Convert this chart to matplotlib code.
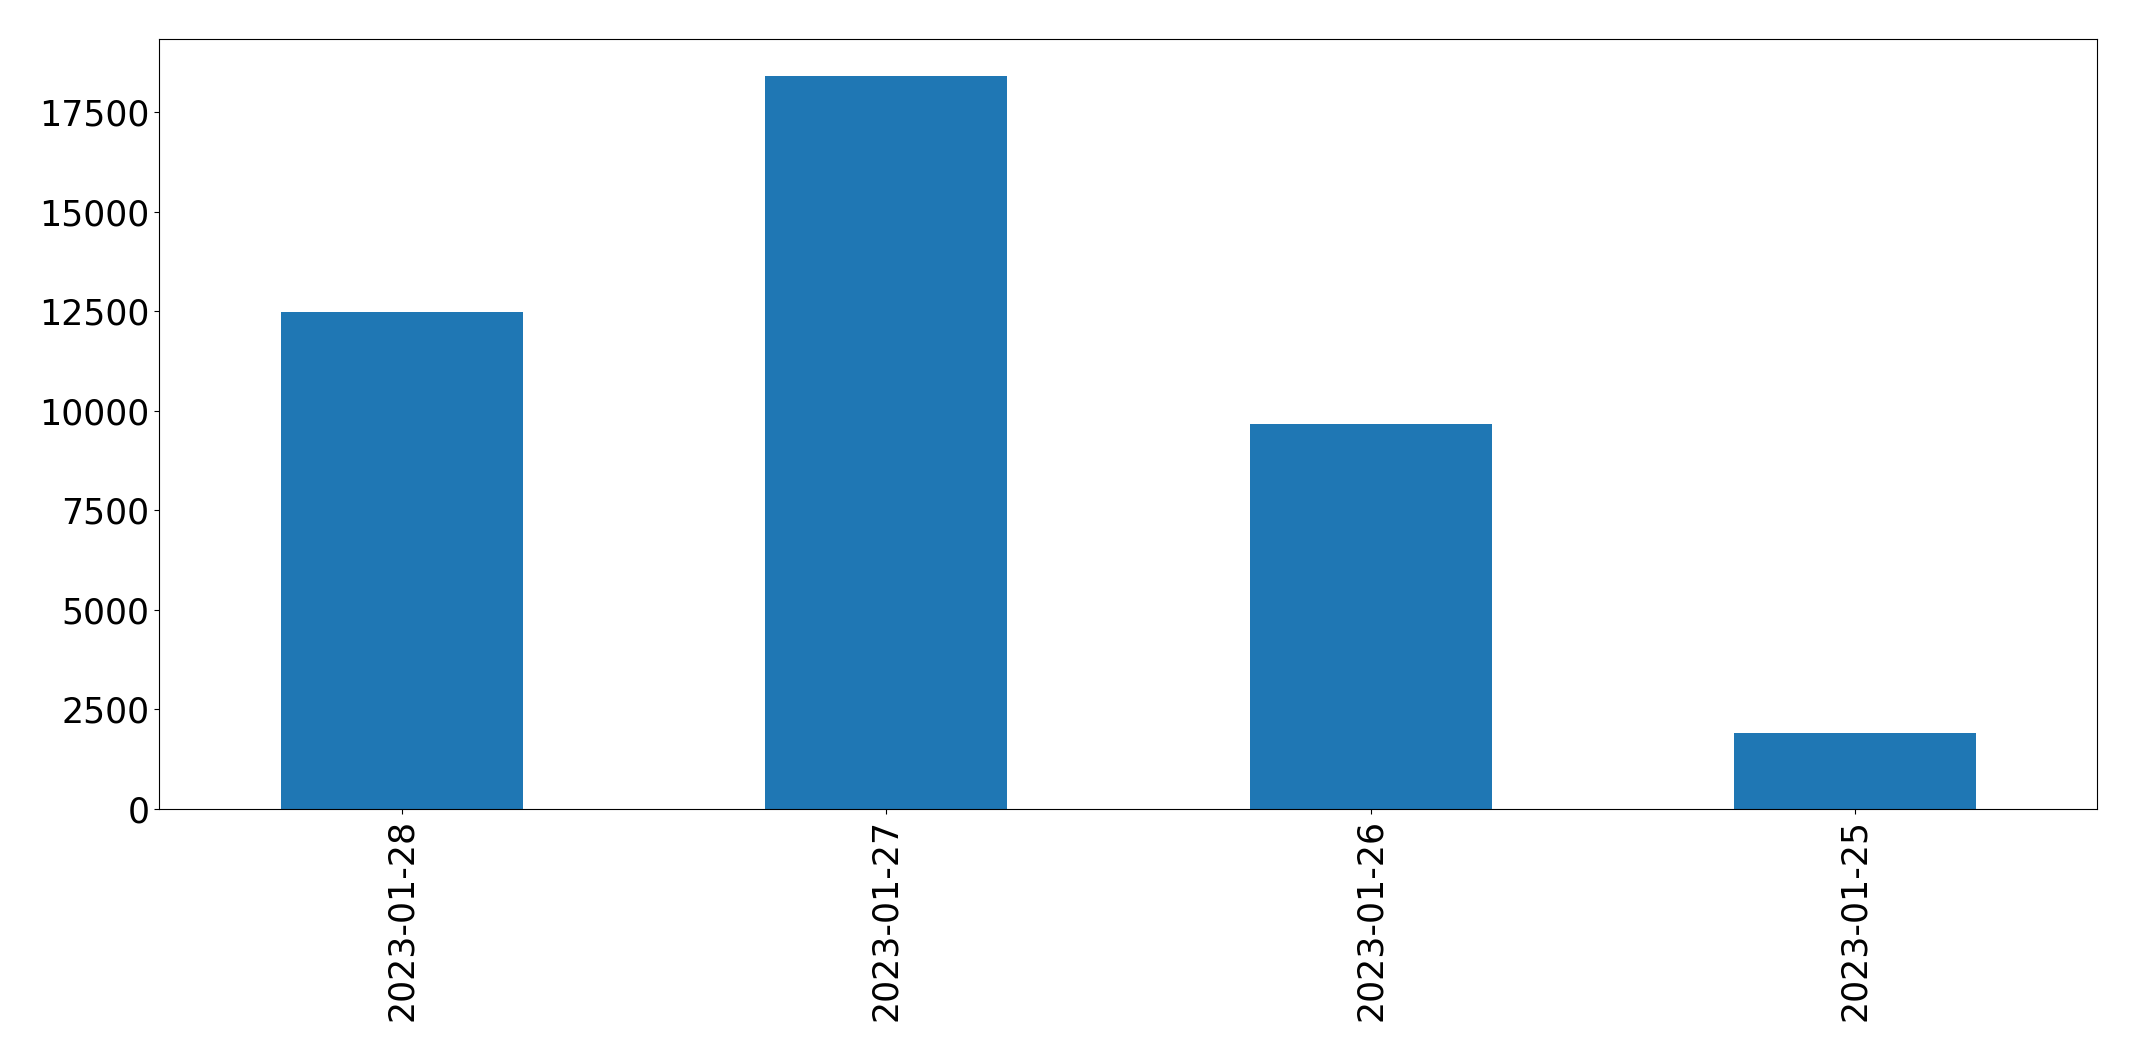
import pandas as pd
import matplotlib
matplotlib.use("Agg")
import matplotlib.pyplot as plt

# conteo diario
fechas = ["2023-01-28", "2023-01-27", "2023-01-26", "2023-01-25"]
conteos = [12480, 18410, 9670, 1910]

serie = pd.Series(conteos, index=fechas)

fig = plt.figure(figsize=(21.37, 10.61), dpi=100)
ax = fig.add_axes([0.0746, 0.2375, 0.9069, 0.7254])
serie.plot(kind="bar", ax=ax, color="#1f77b4", fontsize=25)

fig.savefig("out.png", dpi=100)
